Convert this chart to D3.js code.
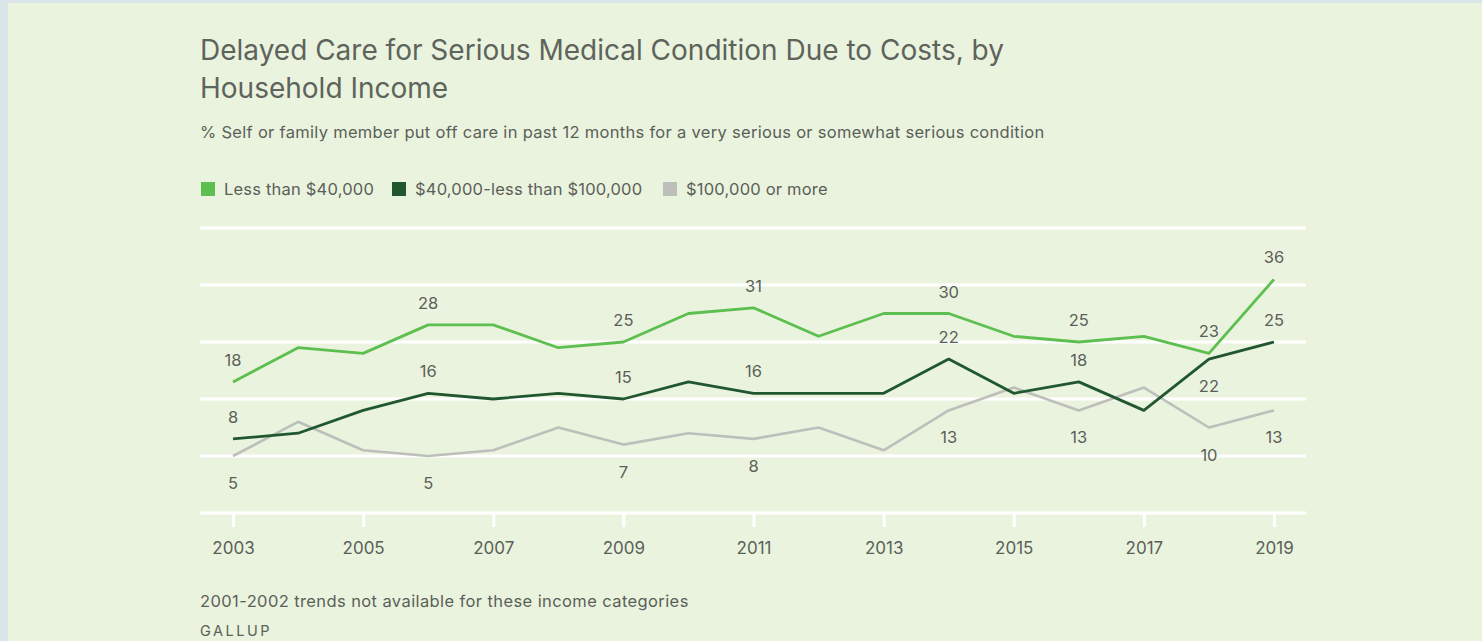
<!DOCTYPE html>
<html>
<head>
<meta charset="utf-8">
<script src="https://cdn.jsdelivr.net/npm/d3@7"></script>
<style>
  html, body { margin: 0; padding: 0; background: #dae5e9; overflow: hidden; }
  svg { display: block; font-family: Inter, Roboto, sans-serif; }
</style>
</head>
<body>
<svg id="chart" width="1482" height="641"></svg>
<script>
// --- data ---
const years = d3.range(2003, 2020);
const seriesNames = ['Less than $40,000', '$40,000-less than $100,000', '$100,000 or more'];
const lowIncome  = [18, 24, 23, 28, 28, 24, 25, 30, 31, 26, 30, 30, 26, 25, 26, 23, 36];
const midIncome  = [8, 9, 13, 16, 15, 16, 15, 18, 16, 16, 16, 22, 16, 18, 13, 22, 25];
const highIncome = [5, 11, 6, 5, 6, 10, 7, 9, 8, 10, 6, 13, 17, 13, 17, 10, 13];
const labeledYears = [2003, 2006, 2009, 2011, 2014, 2016, 2018, 2019];
// which side of the line each label sits on (a = above, b = below)
const lowLabelSide  = ['a', 'a', 'a', 'a', 'a', 'a', 'a', 'a'];
const midLabelSide  = ['a', 'a', 'a', 'a', 'a', 'a', 'b', 'a'];
const highLabelSide = ['b', 'b', 'b', 'b', 'b', 'b', 'b', 'b'];
const yTicks = [-5, 5, 15, 25, 35, 45];
const xTickYears = [2003, 2005, 2007, 2009, 2011, 2013, 2015, 2017, 2019];

const colors = ['#5dbf4f', '#21572f', '#bdbfbb'];
const textColor = '#5b5f59';

const svg = d3.select('#chart');

// panel
svg.append('rect')
  .attr('x', 8).attr('y', 3)
  .attr('width', 1474).attr('height', 638)
  .attr('fill', '#eaf3de');

// --- titles ---
svg.append('text')
  .attr('x', 200).attr('y', 60)
  .attr('font-size', 28).attr('fill', '#5e635c')
  .text('Delayed Care for Serious Medical Condition Due to Costs, by');
svg.append('text')
  .attr('x', 200).attr('y', 98)
  .attr('font-size', 28).attr('fill', '#5e635c')
  .text('Household Income');
svg.append('text')
  .attr('x', 200).attr('y', 138)
  .attr('font-size', 16.5).attr('fill', textColor)
  .attr('letter-spacing', 0.3)
  .text('% Self or family member put off care in past 12 months for a very serious or somewhat serious condition');

// --- legend ---
const legendX = [201, 392, 663];
const legend = svg.append('g');
seriesNames.forEach((name, i) => {
  legend.append('rect')
    .attr('x', legendX[i]).attr('y', 182)
    .attr('width', 14).attr('height', 14)
    .attr('fill', colors[i]);
  legend.append('text')
    .attr('x', legendX[i] + 23).attr('y', 195)
    .attr('font-size', 16.5).attr('fill', textColor)
    .attr('letter-spacing', 0.2)
    .text(name);
});

// --- scales ---
const x = d3.scaleLinear().domain([2003, 2019]).range([233, 1274]);
const y = d3.scaleLinear().domain([-5, 45]).range([513, 228]);

// gridlines
svg.append('g')
  .selectAll('line')
  .data(yTicks)
  .join('line')
  .attr('x1', 200).attr('x2', 1306)
  .attr('y1', d => y(d)).attr('y2', d => y(d))
  .attr('stroke', '#ffffff').attr('stroke-width', 3);

// x axis
const xAxis = d3.axisBottom(x)
  .tickValues(xTickYears)
  .tickFormat(d3.format('d'))
  .tickSize(14)
  .tickPadding(15);
const xg = svg.append('g')
  .attr('transform', `translate(0,${y(-5)})`)
  .call(xAxis);
xg.select('.domain').remove();
xg.selectAll('.tick line').attr('stroke', '#ffffff').attr('stroke-width', 3);
xg.selectAll('.tick text')
  .attr('font-size', 17).attr('fill', textColor)
  .attr('font-family', 'Inter, Roboto, sans-serif');

// --- lines ---
const line = d3.line()
  .x((d, i) => x(years[i]))
  .y(d => y(d));

const allSeries = [lowIncome, midIncome, highIncome];
const widths = [2.8, 2.8, 2.6];
// draw gray first so greens sit on top
[2, 1, 0].forEach(i => {
  svg.append('path')
    .datum(allSeries[i])
    .attr('fill', 'none')
    .attr('stroke', colors[i])
    .attr('stroke-width', widths[i])
    .attr('stroke-linejoin', 'round')
    .attr('d', line);
});

// --- value labels ---
const sides = [lowLabelSide, midLabelSide, highLabelSide];
const labels = svg.append('g')
  .attr('font-size', 16.5).attr('fill', textColor)
  .attr('text-anchor', 'middle');
allSeries.forEach((vals, s) => {
  labeledYears.forEach((yr, k) => {
    const v = vals[years.indexOf(yr)];
    const above = sides[s][k] === 'a';
    labels.append('text')
      .attr('x', x(yr))
      .attr('y', y(v) + (above ? -16 : 33))
      .text(v);
  });
});

// --- footer ---
svg.append('text')
  .attr('x', 200).attr('y', 607)
  .attr('font-size', 16.5).attr('fill', textColor)
  .attr('letter-spacing', 0.4)
  .text('2001-2002 trends not available for these income categories');
svg.append('text')
  .attr('x', 200).attr('y', 636)
  .attr('font-size', 14.5).attr('fill', textColor)
  .attr('letter-spacing', 2.5)
  .text('GALLUP');
</script>
</body>
</html>
